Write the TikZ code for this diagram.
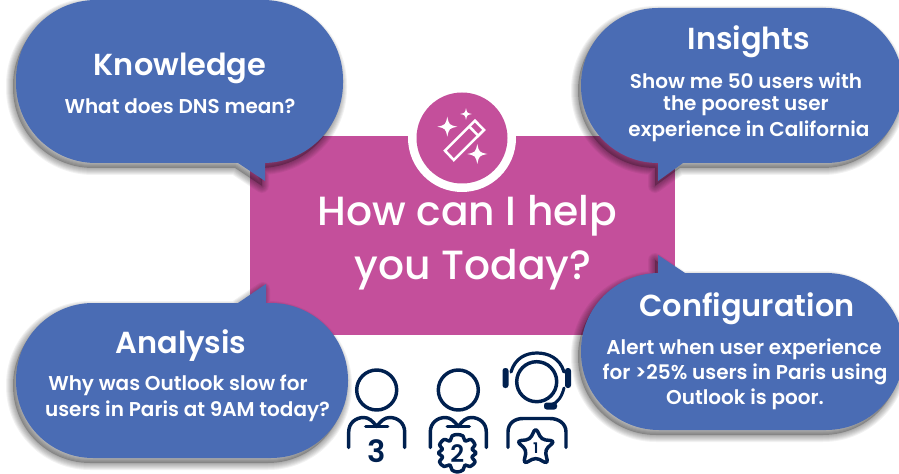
\documentclass[tikz,border=0pt]{standalone}
\usepackage{fontspec}
\setmainfont{Poppins}
\newfontfamily\medfont{Poppins Medium}
\newfontfamily\semifont{Poppins SemiBold}
\usetikzlibrary{calc}
\definecolor{bubblecol}{HTML}{4A6CB4}
\definecolor{pinkcol}{HTML}{C44F9B}
\definecolor{navycol}{HTML}{00204F}
\tikzset{x=0.75pt,y=-0.75pt,
  title/.style={text=white,font=\semifont\fontsize{22.8pt}{26pt}\selectfont,anchor=center,inner sep=0},
  body/.style={text=white,font=\semifont\fontsize{15pt}{16pt}\selectfont,anchor=center,inner sep=0},
  big/.style={text=white,font=\medfont\fontsize{30.6pt}{36pt}\selectfont,anchor=center,inner sep=0},
  icon/.style={draw=navycol,line width=2.6pt,line cap=round,line join=round,fill=none},
  wand/.style={draw=white,line width=1.9pt,line join=miter,fill=none},
  sparkle/.style={fill=white,draw=none}}
% x1 y1 x2 y2 r top-insert bottom-insert
\newcommand{\pill}[7]{(#1+#5,#2) #6 -- (#3-#5,#2)
  .. controls (#3-.4477*#5,#2) and (#3,#2+.4477*#5) .. (#3,#2+#5) -- (#3,#4-#5)
  .. controls (#3,#4-.4477*#5) and (#3-.4477*#5,#4) .. (#3-#5,#4) #7 -- (#1+#5,#4)
  .. controls (#1+.4477*#5,#4) and (#1,#4-.4477*#5) .. (#1,#4-#5) -- (#1,#2+#5)
  .. controls (#1,#2+.4477*#5) and (#1+.4477*#5,#2) .. (#1+#5,#2) -- cycle}
\newcommand{\softshadow}[1]{%
  \fill[black,opacity=0.22,shift={(-3,5)}] #1;
  \foreach \w in {2,4,...,14}{%
    \draw[black,draw opacity=0.05,line width=\w*0.75pt,line join=round,shift={(-3,5)}] #1;}}
\newcommand{\bubble}[1]{\softshadow{#1}\fill[bubblecol] #1;}
\newcommand{\spark}[3]{%
  \fill[sparkle] (#1,#2-#3) .. controls (#1+#3*.18,#2-#3*.18) .. (#1+#3,#2) .. controls (#1+#3*.18,#2+#3*.18) .. (#1,#2+#3) .. controls (#1-#3*.18,#2+#3*.18) .. (#1-#3,#2) .. controls (#1-#3*.18,#2-#3*.18) .. cycle;}
\newcommand{\shoulders}[1]{%
  \begin{scope}[shift={(#1,0)}]
  \draw[icon] (-28,447.5) -- (-28,432) .. controls (-28,423) and (-21,417.5) .. (-13,417.5) .. controls (-8,417.5) and (-4,421) .. (0,426.5) .. controls (4,421) and (8,417.5) .. (13,417.5) .. controls (21,417.5) and (28,423) .. (28,432) -- (28,447.5);
  \draw[icon] (-11,426.5) -- (11,426.5);
  \end{scope}}
\begin{document}
\begin{tikzpicture}
\useasboundingbox (0,0) rectangle (899,474);
\fill[white] (0,0) rectangle (899,474);
% centre panel
\fill[pinkcol] (250,136) rectangle (675,335);
\fill[white] (462,138) circle (54);
\fill[pinkcol] (462,138) circle (45.5);
% wand icon
\draw[wand] (445,150.7) -- (475,120.7) -- (484,130) -- (453.8,160) -- cycle;
\draw[wand] (469.3,126.5) -- (478.3,135.7);
\spark{447.3}{126.7}{10}
\spark{466}{114}{5.8}
\spark{477.3}{154}{10}
% bubbles
\bubble{\pill{16}{0}{343}{163}{80}{}{-- (265,163) -- (265,181) -- (238,163)}}
\bubble{\pill{581}{8}{903}{163}{77}{}{-- (683,163) -- (658,181) -- (658,163)}}
\bubble{\pill{581}{273}{904}{430}{78}{-- (658,273) -- (658,255) -- (685,273)}{}}
\bubble{\pill{16}{303}{348}{458}{77}{-- (238,303) -- (266,284) -- (266,303)}{}}
% texts
\node[title] (knowTitle) at (180,68) {Knowledge};
\node[body] (knowBody) at (180,106) {What does DNS mean?};
\node[title] (insTitle) at (749,42) {Insights};
\node[body] (insA) at (746,80.5) {Show me 50 users with};
\node[body] (insB) at (746,106) {the poorest user};
\node[body] (insC) at (749,131) {experience in California};
\node[title] (confTitle) at (747,309) {Configuration};
\node[body] (confA) at (744,349) {Alert when user experience};
\node[body] (confB) at (745,374) {for >25\% users in Paris using};
\node[body] (confC) at (745,399) {Outlook is poor.};
\node[title] (anaTitle) at (181,346) {Analysis};
\node[body] (anaA) at (178,385) {Why was Outlook slow for};
\node[body] (anaB) at (187.5,411) {users in Paris at 9AM today?};
\node[big] (helpA) at (467.5,216) {How can I help};
\node[big] (helpB) at (473,270) {you Today?};
% people icons
\draw[icon] (376.7,390) circle (20);
\shoulders{376.7}
\node[text=navycol,font=\semifont\fontsize{23pt}{24pt}\selectfont,inner sep=0] (three) at (376.7,451) {3};
\draw[icon] (458.3,390) circle (20);
\shoulders{458.3}
\draw[icon,fill=white,smooth cycle] plot[tension=0.55] coordinates {
 (457.3,434.5) (463,436) (465,441) (471,439.5) (475,445) (472,449) (476,453) (472,457)
 (475,462) (470,466.5) (465,465) (463,470) (457.3,472) (452,470) (450,465) (444,466.5)
 (439.5,462) (442.5,457) (438.5,453) (442.5,449) (439.5,445) (444,439.5) (450,441) (452,436)};
\node[text=navycol,font=\semifont\fontsize{18pt}{20pt}\selectfont,inner sep=0] (two) at (457.3,454) {2};
\draw[icon] (536.7,381.7) circle (20);
\draw[icon,line width=2.4pt] (511,372) .. controls (515,358) and (526,353) .. (537,353) .. controls (548,353) and (560,358) .. (564,372);
\fill[navycol,rounded corners=2] (502.5,368) rectangle (508.5,388);
\fill[navycol,rounded corners=2] (565,368) rectangle (571,388);
\draw[icon,line width=2.2pt] (564,388) .. controls (562,396) and (558,403) .. (551,405);
\fill[navycol,rounded corners=2] (544,402.5) rectangle (557,409.5);
\draw[icon] (508,447.5) -- (508,432) .. controls (508,423) and (515,418.5) .. (523,418.5) -- (550,418.5) .. controls (558,418.5) and (566,423) .. (566,432) -- (566,447.5);
\draw[icon,fill=white,rounded corners=3] (535.7,427.5) -- (541.5,439.5) -- (555,441) -- (545,450) -- (548,464) -- (535.7,457.5) -- (523.5,464) -- (526.5,450) -- (516.5,441) -- (530,439.5) -- cycle;
\node[text=navycol,font=\semifont\fontsize{11pt}{12pt}\selectfont,inner sep=0] (one) at (535.7,448) {1};
\end{tikzpicture}
\end{document}
